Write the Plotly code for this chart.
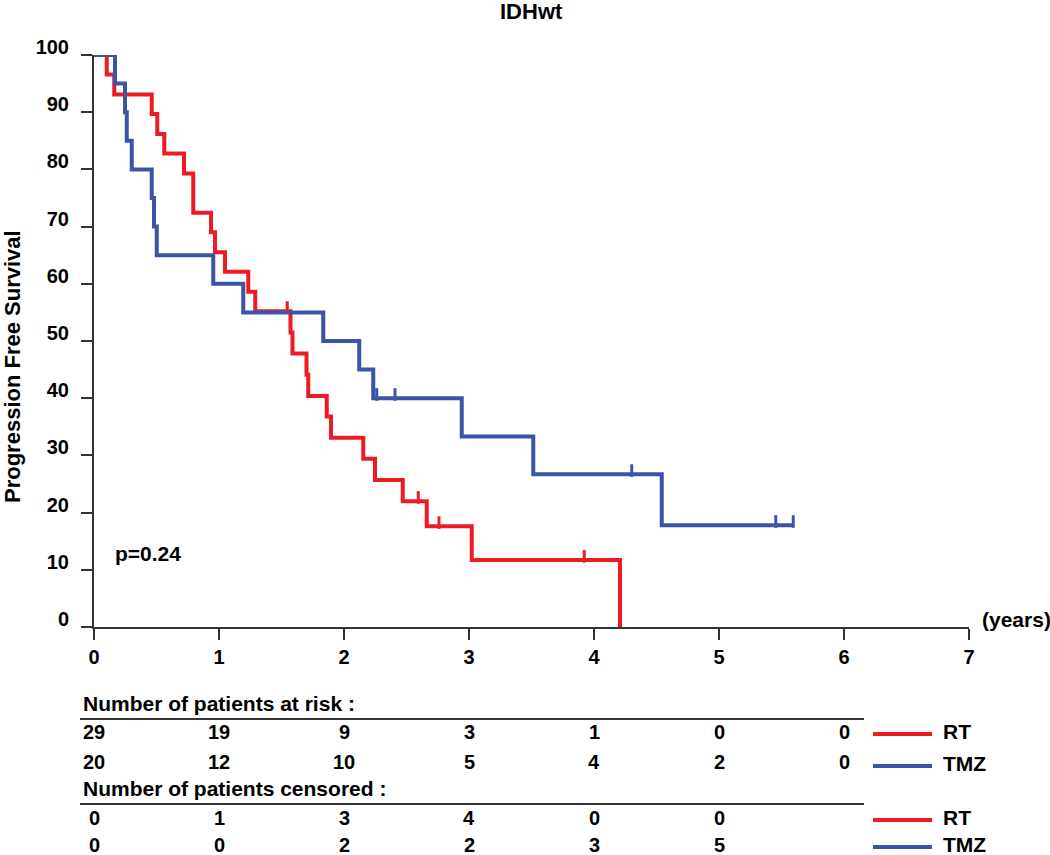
import plotly.graph_objects as go

# ---------------- data ----------------
rt_times = [0, 0.102, 0.162, 0.462, 0.506, 0.562, 0.72, 0.794, 0.936, 0.968, 1.048,
            1.234, 1.29, 1.572, 1.588, 1.70, 1.714, 1.862, 1.896, 2.154, 2.248, 2.47,
            2.662, 3.022, 4.208]
rt_surv = [100, 96.6, 93.1, 89.7, 86.2, 82.8, 79.3, 72.4, 69.0, 65.5, 62.1,
           58.6, 55.2, 51.5, 47.8, 44.1, 40.4, 36.8, 33.1, 29.4, 25.7, 22.0,
           17.6, 11.7, 0]
rt_censor = [1.546, 2.594, 2.76, 3.922]

tmz_times = [0, 0.168, 0.248, 0.262, 0.302, 0.462, 0.48, 0.502, 0.954, 1.194,
             1.834, 2.122, 2.234, 2.942, 3.514, 4.542, 5.594]
tmz_surv = [100, 95, 90, 85, 80, 75, 70, 65, 60, 55,
            50, 45, 40, 33.3, 26.7, 17.8, 17.8]
tmz_censor = [2.262, 2.408, 4.302, 5.454, 5.594]

x_ticks = [0, 1, 2, 3, 4, 5, 6, 7]
y_ticks = [0, 10, 20, 30, 40, 50, 60, 70, 80, 90, 100]

risk_times = [0, 1, 2, 3, 4, 5, 6]
rt_at_risk = [29, 19, 9, 3, 1, 0, 0]
tmz_at_risk = [20, 12, 10, 5, 4, 2, 0]
cens_times = [0, 1, 2, 3, 4, 5]
rt_censored = [0, 1, 3, 4, 0, 0]
tmz_censored = [0, 0, 2, 2, 3, 5]

groups = ["RT", "TMZ"]
p_text = "p=0.24"
title_text = "IDHwt"
y_title = "Progression Free Survival"
x_unit = "(years)"
risk_header = "Number of patients at risk :"
cens_header = "Number of patients censored :"

RED = "#ED1C24"
BLUE = "#3B54A5"
FONT = "Arial, Liberation Sans, sans-serif"


def step_value(times, surv, t):
    v = surv[0]
    for ti, si in zip(times, surv):
        if ti <= t:
            v = si
    return v


# ---------------- layout geometry ----------------
L, R, T, B = 94, 81, 55, 228
W, H = 1050, 855
PLOT_H = H - T - B
PLOT_W = W - L - R


def py(pix):
    return (H - B - pix) / PLOT_H


def px(pix):
    return (pix - L) / PLOT_W


fig = go.Figure()

for times, surv, cens, col, name in [
    (rt_times, rt_surv, rt_censor, RED, groups[0]),
    (tmz_times, tmz_surv, tmz_censor, BLUE, groups[1]),
]:
    fig.add_trace(go.Scatter(
        x=times, y=surv, mode="lines", line=dict(color=col, width=4, shape="hv"),
        name=name, showlegend=False, cliponaxis=False, hoverinfo="skip"))
    cy = [step_value(times, surv, t) + 0.65 for t in cens]
    fig.add_trace(go.Scatter(
        x=cens, y=cy, mode="markers", showlegend=False, cliponaxis=False,
        marker=dict(symbol="line-ns", size=9, line=dict(color=col, width=3)),
        hoverinfo="skip"))

bold = dict(family=FONT, color="black", weight="bold")

fig.update_xaxes(
    range=[0, 7], tickvals=x_ticks, ticktext=[str(v) for v in x_ticks],
    showgrid=False, zeroline=False, showline=True, linecolor="#333", linewidth=2,
    ticks="outside", ticklen=11, tickwidth=2, tickcolor="#333",
    tickfont=dict(size=20, **bold), ticklabelstandoff=0, layer="below traces")
fig.update_yaxes(
    range=[0, 100], tickvals=y_ticks, ticktext=[str(v) for v in y_ticks],
    showgrid=False, zeroline=False, showline=True, linecolor="#333", linewidth=2,
    ticks="outside", ticklen=11, tickwidth=2, tickcolor="#333",
    tickfont=dict(size=20, **bold), ticklabelshift=-8, ticklabelstandoff=8,
    layer="below traces")

ann = []
ann.append(dict(text=title_text, x=0.5, y=py(12), xref="paper", yref="paper",
                showarrow=False, xanchor="center", yanchor="middle",
                font=dict(size=22, **bold)))
ann.append(dict(text=y_title, x=px(12), y=py(367), xref="paper", yref="paper",
                showarrow=False, textangle=-90, xanchor="center", yanchor="middle",
                font=dict(size=22, **bold)))
ann.append(dict(text=x_unit, x=px(980), y=py(619), xref="paper", yref="paper",
                showarrow=False, xanchor="left", yanchor="middle",
                font=dict(size=21, **bold)))
ann.append(dict(text=p_text, x=px(113), y=py(553), xref="paper", yref="paper",
                showarrow=False, xanchor="left", yanchor="middle",
                font=dict(size=21, **bold)))

# table headers
ann.append(dict(text=risk_header, x=px(81), y=py(703), xref="paper", yref="paper",
                showarrow=False, xanchor="left", yanchor="middle",
                font=dict(size=21, **bold)))
ann.append(dict(text=cens_header, x=px(81), y=py(788), xref="paper", yref="paper",
                showarrow=False, xanchor="left", yanchor="middle",
                font=dict(size=21, **bold)))

rows = [
    (risk_times, rt_at_risk, 732),
    (risk_times, tmz_at_risk, 762),
    (cens_times, rt_censored, 818),
    (cens_times, tmz_censored, 845),
]
for tt, vals, ypix in rows:
    for t, v in zip(tt, vals):
        ann.append(dict(text=str(v), x=t, y=py(ypix), xref="x", yref="paper",
                        showarrow=False, xanchor="center", yanchor="middle",
                        font=dict(size=20, **bold)))

shapes = []
for ypix in (719, 804):
    shapes.append(dict(type="line", xref="paper", yref="paper",
                       x0=px(80), x1=px(864), y0=py(ypix), y1=py(ypix),
                       line=dict(color="#333", width=2)))

for ypix, col, name in [(734, RED, groups[0]), (766, BLUE, groups[1]),
                        (820, RED, groups[0]), (847, BLUE, groups[1])]:
    shapes.append(dict(type="line", xref="paper", yref="paper",
                       x0=px(873), x1=px(932), y0=py(ypix), y1=py(ypix),
                       line=dict(color=col, width=4)))
    ann.append(dict(text=name, x=px(941), y=py(ypix - 3), xref="paper", yref="paper",
                    showarrow=False, xanchor="left", yanchor="middle",
                    font=dict(size=21, **bold)))

fig.update_layout(
    width=W, height=H, margin=dict(l=L, r=R, t=T, b=B, autoexpand=False),
    paper_bgcolor="white", plot_bgcolor="white",
    annotations=ann, shapes=shapes, showlegend=False)

fig.write_html(
    "out.html",
    config={"displayModeBar": False},
    post_script="document.body.style.margin='0';document.body.style.overflow='hidden';")
